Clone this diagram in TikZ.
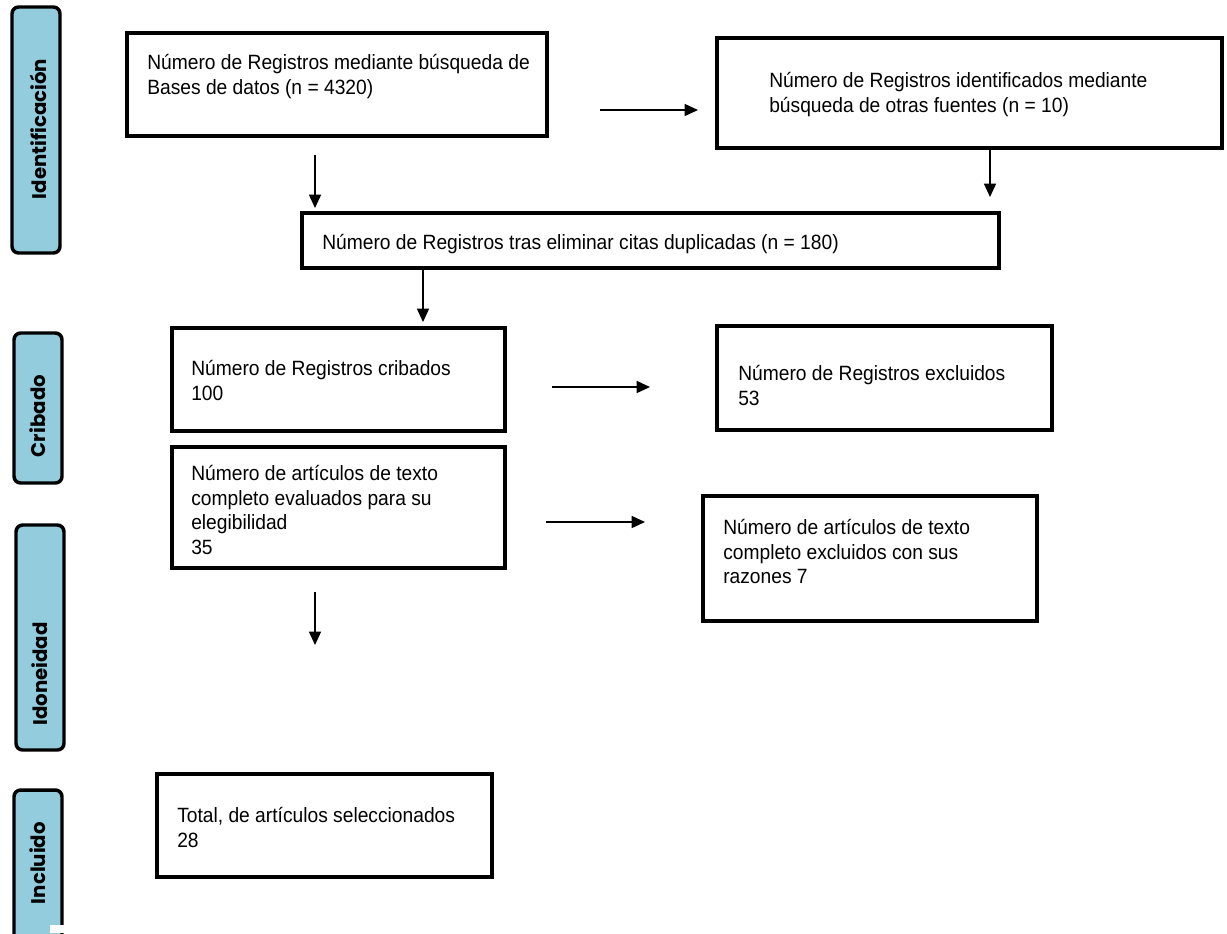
\documentclass[tikz,border=0pt]{standalone}
\usepackage{fontspec}
\setmainfont[FakeStretch=0.93]{Liberation Sans}
\newfontfamily\sidefont{Poppins}
\usetikzlibrary{arrows.meta,fit}
\definecolor{sideblue}{HTML}{93CDDD}
\begin{document}
\begin{tikzpicture}[x=0.75pt,y=-0.75pt,
  box/.style={draw=black, line width=3.1pt, inner sep=0pt},
  sidebar/.style={draw=black, fill=sideblue, line width=2.6pt, rounded corners=5pt, inner sep=0pt},
  sidetxt/.style={rotate=90, inner sep=0pt, font=\sidefont\bfseries\fontsize{14.8}{17}\selectfont},
  txt/.style={anchor=north west, align=left, inner sep=0pt, font=\fontsize{15.5}{18.4}\selectfont},
  arr/.style={line width=1.1pt, -{Triangle[length=10pt,width=9pt]}}]
\useasboundingbox (0,0) rectangle (1227,933);

% side bars
\node[sidebar, fit={(12,7) (60,253)}] (sIdent) {};
\node[sidebar, fit={(14,333) (62,483)}] (sCrib) {};
\node[sidebar, fit={(16,525) (64,750)}] (sIdon) {};
\node[sidebar, fit={(14,790) (62,960)}] (sIncl) {};
\fill[white] (50,925) rectangle (66,933);
\node[sidetxt] (lIdent) at (38,129) {Identificación};
\node[sidetxt] (lCrib) at (38,416) {Cribado};
\node[sidetxt] (lIdon) at (40,674) {Idoneidad};
\node[sidetxt] (lIncl) at (38,863) {Incluido};

% boxes
\node[box, fit={(127,33) (547,136)}] (b1) {};
\node[box, fit={(717,38) (1222,148)}] (b2) {};
\node[box, fit={(302,213) (999,268)}] (b3) {};
\node[box, fit={(172,328) (505,431)}] (b4) {};
\node[box, fit={(717,326) (1052,430)}] (b5) {};
\node[box, fit={(172,447) (505,568)}] (b6) {};
\node[box, fit={(703,496) (1037,621)}] (b7) {};
\node[box, fit={(157,774) (492,877)}] (b8) {};

% texts
\node[txt] (t1) at (147,54) {Número de Registros mediante búsqueda de\\Bases de datos (n = 4320)};
\node[txt] (t2) at (769,72) {Número de Registros identificados mediante\\búsqueda de otras fuentes (n = 10)};
\node[txt] (t3) at (322,234) {Número de Registros tras eliminar citas duplicadas (n = 180)};
\node[txt] (t4) at (191,360) {Número de Registros cribados\\100};
\node[txt] (t5) at (738,365) {Número de Registros excluidos\\53};
\node[txt] (t6) at (191,465) {Número de artículos de texto\\completo evaluados para su\\elegibilidad\\35};
\node[txt] (t7) at (723,519) {Número de artículos de texto\\completo excluidos con sus\\razones 7};
\node[txt] (t8) at (177,807) {Total, de artículos seleccionados\\28};

% arrow end points
\coordinate (a1s) at (600,110); \coordinate (a1e) at (698,110);
\coordinate (a2s) at (315,155); \coordinate (a2e) at (315,208);
\coordinate (a3s) at (990,148); \coordinate (a3e) at (990,197);
\coordinate (a4s) at (423,268); \coordinate (a4e) at (423,322);
\coordinate (a5s) at (552,387); \coordinate (a5e) at (650,387);
\coordinate (a6s) at (546,522); \coordinate (a6e) at (645,522);
\coordinate (a7s) at (315,592); \coordinate (a7e) at (315,645);

\draw[arr] (a1s) -- (a1e);
\draw[arr] (a2s) -- (a2e);
\draw[arr] (a3s) -- (a3e);
\draw[arr] (a4s) -- (a4e);
\draw[arr] (a5s) -- (a5e);
\draw[arr] (a6s) -- (a6e);
\draw[arr] (a7s) -- (a7e);
\end{tikzpicture}
\end{document}
